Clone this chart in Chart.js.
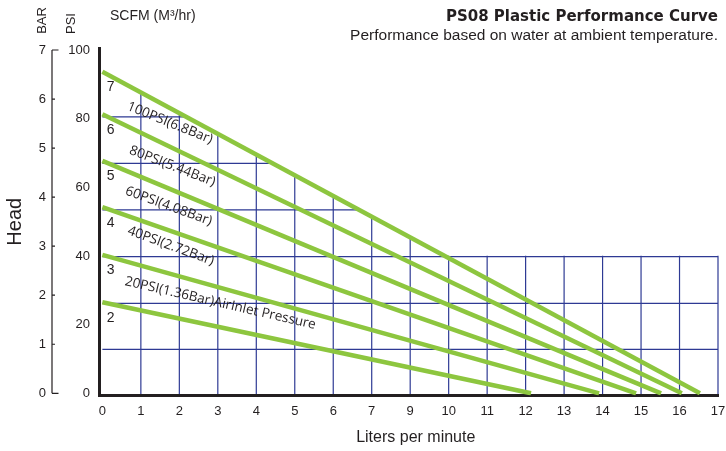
<!DOCTYPE html>
<html><head><meta charset="utf-8">
<script src="https://cdn.jsdelivr.net/npm/chart.js@4/dist/chart.umd.min.js"></script>
<style>html,body{margin:0;padding:0;background:#fff}#wrap{width:726px;height:451px;position:relative}</style>
</head><body><div id="wrap"><canvas id="c"></canvas></div>
<script>
// ---- data ----
const xTickLabels = ['0','1','2','3','4','5','6','7','9','10','11','12','13','14','15','16','17'];
const psiTicks = [0, 20, 40, 60, 80, 100];
const barTicks = [0, 1, 2, 3, 4, 5, 6, 7];
const curveBar = ['7', '6', '5', '4', '3', '2'];
const curveStartPsi = [93.65, 81.3, 67.7, 54.2, 40.3, 26.5];
const curveEndFlow = [15.53, 15.06, 14.52, 13.87, 12.91, 11.14];
const pressureLabels = ['100PSI(6.8Bar)', '80PSI(5.44Bar)', '60PSI(4.08Bar)', '40PSI(2.72Bar)', '20PSI(1.36Bar)AirInlet Pressure'];
const gridRowsPsi = [12.8, 26.2, 39.8, 53.4, 67.0, 80.5];
const xAxisTitle = 'Liters per minute';

// ---- styles ----
const INK = '#231f20';
const GREEN = '#8dc63f';
const GRIDC = '#2e3a94';
const labelPlacement = [
  {dx: 67.6, dy: 51.3, rot: 22},
  {dx: 70.0, dy: 52.0, rot: 21},
  {dx: 66.3, dy: 45.3, rot: 20},
  {dx: 68.4, dy: 38.7, rot: 20},
  {dx: 118.0, dy: 48.3, rot: 13}
];

const datasets = curveStartPsi.map((s, i) => ({
  label: curveBar[i] + ' bar',
  data: [{x: 0, y: s}, {x: curveEndFlow[i], y: 0}],
  borderColor: GREEN, backgroundColor: GREEN, borderWidth: 4.5,
  pointRadius: 0, tension: 0, borderCapStyle: 'butt',
  xAxisID: 'x', yAxisID: 'psi'
}));

const overlay = {
  id: 'overlay',
  beforeDatasetsDraw(chart) {
    const {ctx, chartArea} = chart;
    const xs = chart.scales.x, ys = chart.scales.psi;
    const X = v => xs.getPixelForValue(v), Y = v => ys.getPixelForValue(v);
    const top = chart.data.datasets[0].data;
    const xMax = xTickLabels.length - 1;
    const fullRowY = Y(gridRowsPsi[2]) - 1;
    const p0x = X(top[0].x), p0y = Y(top[0].y), p1x = X(top[1].x), p1y = Y(top[1].y);
    const t = (fullRowY - p0y) / (p1y - p0y);
    const ix = p0x + t * (p1x - p0x);
    ctx.save();
    ctx.beginPath();
    ctx.moveTo(p0x - 3, p0y);
    ctx.lineTo(ix, fullRowY);
    ctx.lineTo(X(xMax) + 1, fullRowY);
    ctx.lineTo(X(xMax) + 1, chartArea.bottom);
    ctx.lineTo(p0x - 3, chartArea.bottom);
    ctx.closePath();
    ctx.clip();
    ctx.strokeStyle = GRIDC;
    ctx.lineWidth = 1.2;
    ctx.beginPath();
    for (let i = 1; i <= xMax; i++) {
      const px = X(i);
      ctx.moveTo(px, chartArea.top);
      ctx.lineTo(px, chartArea.bottom - 1.5);
    }
    gridRowsPsi.forEach(v => {
      ctx.moveTo(X(0), Y(v));
      ctx.lineTo(X(xMax), Y(v));
    });
    ctx.stroke();
    ctx.restore();
  },
  afterDatasetsDraw(chart) {
    const {ctx, chartArea} = chart;
    const xs = chart.scales.x, ys = chart.scales.psi, bs = chart.scales.bar;
    const X = v => xs.getPixelForValue(v), Y = v => ys.getPixelForValue(v);
    ctx.save();
    ctx.fillStyle = INK;
    // bar numbers at curve starts
    ctx.font = '14px "Liberation Sans"';
    ctx.textAlign = 'center';
    ctx.textBaseline = 'middle';
    curveBar.forEach((b, i) => {
      ctx.fillText(b, X(0) + 8.3, Y(curveStartPsi[i]) + 15.5);
    });
    // pressure labels along curves
    ctx.font = '13.5px "Open Sans"';
    pressureLabels.forEach((txt, i) => {
      const pl = labelPlacement[i];
      ctx.save();
      ctx.translate(X(0) + pl.dx, Y(curveStartPsi[i]) + pl.dy);
      ctx.rotate(pl.rot * Math.PI / 180);
      ctx.fillText(txt, 0, 0);
      ctx.restore();
    });
    // x axis title
    ctx.font = '16px "Liberation Sans"';
    ctx.fillText(xAxisTitle, (chartArea.left + chartArea.right) / 2 + 7, xs.bottom - 13);
    // bar axis line and ticks
    const bx = bs.right;
    ctx.strokeStyle = INK;
    ctx.lineWidth = 1.2;
    ctx.beginPath();
    ctx.moveTo(bx, bs.getPixelForValue(barTicks[0]));
    ctx.lineTo(bx, bs.getPixelForValue(barTicks[barTicks.length - 1]));
    barTicks.forEach((v, i) => {
      const py = bs.getPixelForValue(v);
      const len = (i === 0 || i === barTicks.length - 1) ? 6.5 : 3;
      ctx.moveTo(bx, py);
      ctx.lineTo(bx + len, py);
    });
    ctx.stroke();
    // header labels
    ctx.font = '13px "Liberation Sans"';
    ctx.textAlign = 'center';
    ctx.textBaseline = 'middle';
    ctx.save(); ctx.translate(42.5, 20.5); ctx.rotate(-Math.PI / 2); ctx.fillText('BAR', 0, 0); ctx.restore();
    ctx.save(); ctx.translate(71.7, 23.5); ctx.rotate(-Math.PI / 2); ctx.fillText('PSI', 0, 0); ctx.restore();
    ctx.font = '14px "Liberation Sans"';
    ctx.textAlign = 'left';
    ctx.fillText('SCFM (M\u00b3/hr)', 110, 16);
    ctx.restore();
  }
};

new Chart(document.getElementById('c'), {
  type: 'line',
  data: {datasets},
  plugins: [overlay],
  options: {
    responsive: true, maintainAspectRatio: false, animation: false, devicePixelRatio: 1,
    layout: {padding: {left: 0, right: 8, top: 0, bottom: 0}},
    plugins: {
      legend: {display: false},
      tooltip: {enabled: false},
      title: {display: true, text: 'PS08 Plastic Performance Curve', align: 'end', color: INK,
        font: {family: 'DejaVu Sans', weight: 'bold', size: 15, lineHeight: 1.2}, padding: {top: 8, bottom: 0}},
      subtitle: {display: true, text: 'Performance based on water at ambient temperature.', align: 'end', color: INK,
        font: {family: 'Liberation Sans', size: 15.5, lineHeight: 1.2}, padding: {top: 0, bottom: 3.4}}
    },
    scales: {
      x: {
        type: 'linear', position: 'bottom', min: -0.075, max: xTickLabels.length - 1,
        afterBuildTicks: s => { s.ticks = xTickLabels.map((_, i) => ({value: i})); },
        afterFit: s => { s.height = 55.5; s.paddingRight = 0; s.paddingLeft = 0; },
        grid: {display: false, drawTicks: false},
        border: {display: true, color: INK, width: 3},
        ticks: {callback: v => xTickLabels[Math.round(v)], font: {family: 'Liberation Sans', size: 13}, color: INK, padding: 7.7, maxRotation: 0, autoSkip: false},
        title: {display: false, text: xAxisTitle}
      },
      psi: {
        type: 'linear', position: 'left', weight: 1, min: -0.64, max: 100.58,
        afterBuildTicks: s => { s.ticks = psiTicks.map(v => ({value: v})); },
        afterFit: s => { s.width = 47.5; },
        grid: {display: false, drawTicks: false},
        border: {display: true, color: INK, width: 3},
        ticks: {font: {family: 'Liberation Sans', size: 13}, color: INK, padding: 9.5}
      },
      bar: {
        type: 'linear', position: 'left', weight: 2, min: -0.045, max: 7.041,
        afterBuildTicks: s => { s.ticks = barTicks.map(v => ({value: v})); },
        afterFit: s => { s.width = 52; },
        grid: {display: false, drawTicks: false, drawOnChartArea: false},
        border: {display: false},
        ticks: {font: {family: 'Liberation Sans', size: 13}, color: INK, padding: 6},
        title: {display: true, text: 'Head', color: INK, font: {family: 'Liberation Sans', size: 20, lineHeight: 1.2}, padding: {top: 3, bottom: 0}}
      }
    }
  }
});
</script>
</body></html>
